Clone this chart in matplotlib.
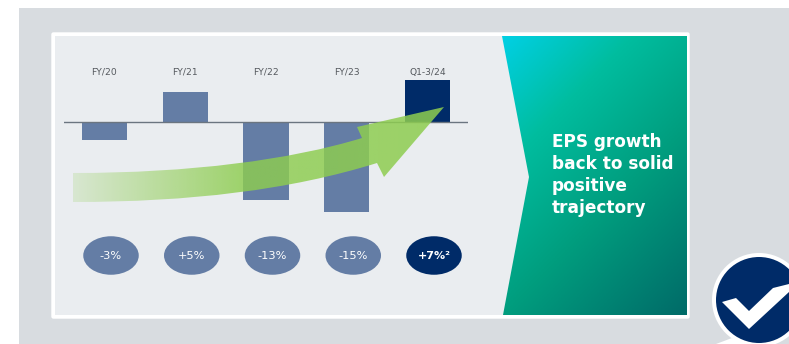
#!/usr/bin/env python3
import numpy as np
import matplotlib
matplotlib.use("Agg")
import matplotlib.pyplot as plt
from matplotlib.colors import LinearSegmentedColormap
from matplotlib.patches import Circle, Ellipse, FancyBboxPatch, Polygon, Rectangle, PathPatch
from matplotlib.path import Path

# ---------------- data ----------------
PERIODS = ["FY/20", "FY/21", "FY/22", "FY/23", "Q1-3/24"]
EPS_GROWTH = [-3, 5, -13, -15, 7]
GROWTH_LABELS = ["-3%", "+5%", "-13%", "-15%", "+7%²"]
HEADLINE = ["EPS growth", "back to solid", "positive", "trajectory"]
# --------------------------------------

W, H = 789, 344
PX_PER_PCT = 6.0
ZERO_Y = 122
BAR_LEFT, BAR_RIGHT = 64, 468
BAR_TOP, BAR_BOTTOM = 60, 230

NAVY = "#002b68"
STEEL = "#647da5"
TEXT_GREY = "#55595e"


def pixel_axes(fig, zorder):
    ax = fig.add_axes([0, 0, 1, 1], zorder=zorder)
    ax.set_xlim(0, W)
    ax.set_ylim(H, 0)
    ax.axis("off")
    ax.patch.set_alpha(0)
    return ax


def draw_background(ax):
    ax.add_patch(Rectangle((19, 8), W - 19, H - 8, fc="#d8dce0", ec="none"))
    ax.add_patch(FancyBboxPatch((52, 33), 637, 285, boxstyle="round,pad=0,rounding_size=1.5",
                                fc="white", ec="white", lw=1))
    ax.add_patch(Rectangle((55, 36), 632, 279, fc="#eaedf0", ec="none"))

    # teal chevron with a diagonal gradient
    cmap = LinearSegmentedColormap.from_list(
        "teal", [(0, "#00d0e4"), (0.28, "#00bd9f"), (0.6, "#009d7e"), (1, "#006b68")])
    xx, yy = np.meshgrid(np.linspace(0, 1, 200), np.linspace(0, 1, 200))
    grad = 0.4 * xx + 0.6 * yy
    img = ax.imshow(grad, extent=(502, 687, 315, 36), cmap=cmap, vmin=0, vmax=1,
                    aspect="auto", zorder=2)
    chevron = Polygon([(502, 36), (687, 36), (687, 315), (503, 315), (529, 177)],
                      closed=True, fc="none", ec="none", transform=ax.transData)
    ax.add_patch(chevron)
    img.set_clip_path(chevron)
    ax.set_xlim(0, W)
    ax.set_ylim(H, 0)


def draw_bars(fig):
    ax = fig.add_axes([BAR_LEFT / W, 1 - BAR_BOTTOM / H,
                       (BAR_RIGHT - BAR_LEFT) / W, (BAR_BOTTOM - BAR_TOP) / H], zorder=1)
    x = np.arange(len(EPS_GROWTH))
    colors = [STEEL] * (len(EPS_GROWTH) - 1) + [NAVY]
    ax.bar(x, EPS_GROWTH, width=0.557, color=colors, zorder=2)
    ax.axhline(0, color="#6b7580", lw=1, zorder=3)
    ax.set_xlim(-0.5, 4.5)
    ax.set_ylim(-(BAR_BOTTOM - ZERO_Y) / PX_PER_PCT, (ZERO_Y - BAR_TOP) / PX_PER_PCT)
    ax.axis("off")
    ax.patch.set_alpha(0)
    return ax


def draw_arrow(ax):
    # curved shaft with a flared head, faded towards the tail
    verts = [
        (73, 173),
        (190, 173), (290, 160), (362, 138),
        (357, 127), (444, 107), (384, 177), (377, 163),
        (290, 190), (190, 202), (73, 202),
        (73, 173),
    ]
    codes = [Path.MOVETO,
             Path.CURVE4, Path.CURVE4, Path.CURVE4,
             Path.LINETO, Path.LINETO, Path.LINETO, Path.LINETO,
             Path.CURVE4, Path.CURVE4, Path.CURVE4,
             Path.CLOSEPOLY]
    rgba = np.zeros((4, 300, 4))
    rgba[..., 0] = 142 / 255
    rgba[..., 1] = 205 / 255
    rgba[..., 2] = 80 / 255
    rgba[..., 3] = np.interp(np.linspace(0, 1, 300), [0, 0.25, 0.45, 1], [0.2, 0.55, 0.82, 0.86])
    img = ax.imshow(rgba, extent=(73, 444, 202, 107), aspect="auto", zorder=3,
                    interpolation="bilinear")
    patch = PathPatch(Path(verts, codes), fc="none", ec="none", transform=ax.transData)
    ax.add_patch(patch)
    img.set_clip_path(patch)
    ax.set_xlim(0, W)
    ax.set_ylim(H, 0)


def draw_labels(ax):
    for i, (period, label) in enumerate(zip(PERIODS, GROWTH_LABELS)):
        cx = 104.5 + i * 80.75
        ax.text(cx, 72, period, ha="center", va="center", fontsize=6.6, color=TEXT_GREY, zorder=5)
        last = i == len(PERIODS) - 1
        ax.add_patch(Ellipse((cx + 6.5, 255.5), 55.5, 38.5, fc=NAVY if last else STEEL,
                             ec="none", zorder=4))
        ax.text(cx + 6.5, 256, label, ha="center", va="center",
                fontsize=8.2 if not last else 8.0, color="white",
                fontweight="bold" if last else "normal", zorder=5)

    for line, y in zip(HEADLINE, [142, 164, 186, 208]):
        ax.text(552, y, line, ha="left", va="center", fontsize=12.2, color="white",
                fontweight="bold", zorder=5)


def draw_badge(ax):
    ax.add_patch(Polygon([(716, 344), (732, 338), (745, 344)], fc="white", ec="none", zorder=5))
    ax.add_patch(Circle((759, 300), 47, fc="white", ec="none", zorder=5))
    ax.add_patch(Circle((759, 300), 43, fc=NAVY, ec="none", zorder=6))
    tick = [(722, 302), (736, 298), (749, 311), (773, 288), (789, 284), (789, 292), (749, 329)]
    ax.add_patch(Polygon(tick, fc="white", ec="none", zorder=7))


def main():
    fig = plt.figure(figsize=(W / 100, H / 100), dpi=100, facecolor="white")

    back = pixel_axes(fig, 0)
    draw_background(back)

    draw_bars(fig)

    front = pixel_axes(fig, 2)
    draw_arrow(front)
    draw_labels(front)
    draw_badge(front)

    fig.savefig("out.png", dpi=100)
    plt.close()


if __name__ == "__main__":
    main()
